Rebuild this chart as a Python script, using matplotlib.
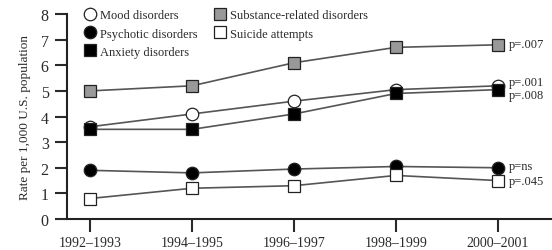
import matplotlib
matplotlib.use("Agg")
import matplotlib.pyplot as plt

periods = ["1992\u20131993", "1994\u20131995", "1996\u20131997", "1998\u20131999", "2000\u20132001"]
mood = [3.6, 4.1, 4.6, 5.05, 5.2]
psychotic = [1.9, 1.8, 1.95, 2.05, 2.0]
anxiety = [3.5, 3.5, 4.1, 4.9, 5.05]
substance = [5.0, 5.2, 6.1, 6.7, 6.8]
suicide = [0.8, 1.2, 1.3, 1.7, 1.5]
pvals = ["p=.007", "p=.001", "p=.008", "p=ns", "p=.045"]
pval_y = [6.85, 5.35, 4.85, 2.05, 1.5]

plt.rcParams['font.family'] = ['Liberation Serif', 'DejaVu Serif']
tc = '#2a2a2a'
lc = '#555555'

fig = plt.figure(figsize=(5.52, 2.51), dpi=100)
ax = fig.add_axes([0.121, 0.1235, 0.879, 0.8165])
x = list(range(len(periods)))

kw = dict(color=lc, lw=1.2, markeredgecolor='#222222', markeredgewidth=0.9)
ax.plot(x, mood, marker='o', markersize=9, markerfacecolor='white', label='Mood disorders', **kw)
ax.plot(x, psychotic, marker='o', markersize=9, markerfacecolor='black', label='Psychotic disorders', **kw)
ax.plot(x, anxiety, marker='s', markersize=8, markerfacecolor='black', label='Anxiety disorders', **kw)
ax.plot(x, substance, marker='s', markersize=8, markerfacecolor='#999999', label='Substance-related disorders', **kw)
ax.plot(x, suicide, marker='s', markersize=8, markerfacecolor='white', label='Suicide attempts', **kw)

for t, yv in zip(pvals, pval_y):
    ax.text(4.11, yv, t, fontsize=9, color=tc, va='center', ha='left')

ax.set_xlim(-0.228, 4.53)
ax.set_ylim(0, 8)
ax.set_xticks(x)
ax.set_xticklabels(periods, fontsize=10, color=tc)
ax.set_yticks(range(0, 9))
ax.tick_params(axis='y', labelsize=11.5, colors=tc, length=9, width=1.5, direction='out', pad=4)
ax.tick_params(axis='x', length=9, width=1.5, direction='out', colors=tc, pad=3)
for s in ['top', 'right']:
    ax.spines[s].set_visible(False)
for s in ['left', 'bottom']:
    ax.spines[s].set_linewidth(1.5)
    ax.spines[s].set_color('#222222')
ax.set_ylabel('Rate per 1,000 U.S. population', fontsize=9.5, color=tc, labelpad=7)

leg = ax.legend(ncol=2, loc='upper left', bbox_to_anchor=(0.02, 1.06), frameon=False,
                fontsize=9, handlelength=1.0, handletextpad=0.3, columnspacing=1.3,
                labelspacing=0.5, borderaxespad=0.2)
for h in leg.legend_handles:
    h.set_linestyle('None')
for t in leg.get_texts():
    t.set_color(tc)

fig.savefig('out.png', dpi=100)
